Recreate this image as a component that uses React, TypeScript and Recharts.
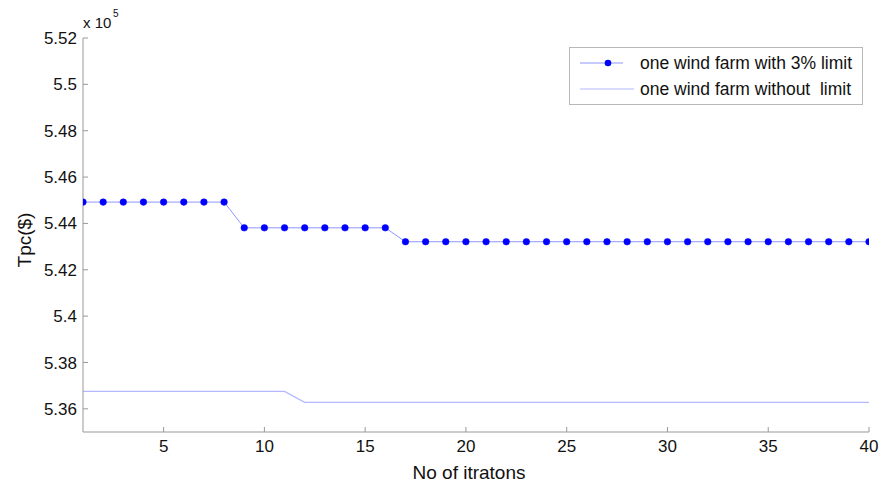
import React from 'react';
import { LineChart, Line, XAxis, YAxis } from 'recharts';

const iterations = [1,2,3,4,5,6,7,8,9,10,11,12,13,14,15,16,17,18,19,20,21,22,23,24,25,26,27,28,29,30,31,32,33,34,35,36,37,38,39,40];
const withLimit = [5.4492,5.4492,5.4492,5.4492,5.4492,5.4492,5.4492,5.4492,5.4381,5.4381,5.4381,5.4381,5.4381,5.4381,5.4381,5.4381,5.4321,5.4321,5.4321,5.4321,5.4321,5.4321,5.4321,5.4321,5.4321,5.4321,5.4321,5.4321,5.4321,5.4321,5.4321,5.4321,5.4321,5.4321,5.4321,5.4321,5.4321,5.4321,5.4321,5.4321];
const withoutLimit = [5.3675,5.3675,5.3675,5.3675,5.3675,5.3675,5.3675,5.3675,5.3675,5.3675,5.3675,5.3628,5.3628,5.3628,5.3628,5.3628,5.3628,5.3628,5.3628,5.3628,5.3628,5.3628,5.3628,5.3628,5.3628,5.3628,5.3628,5.3628,5.3628,5.3628,5.3628,5.3628,5.3628,5.3628,5.3628,5.3628,5.3628,5.3628,5.3628,5.3628];
const xTicks = [5,10,15,20,25,30,35,40];
const yTicks = [5.36,5.38,5.4,5.42,5.44,5.46,5.48,5.5,5.52];
const seriesNames = ['one wind farm with 3% limit', 'one wind farm without  limit'];
const xLabel = 'No of itratons';
const yLabel = 'Tpc($)';

const data = iterations.map((it, i) => ({ it, a: withLimit[i], b: withoutLimit[i] }));

const FONT = 'Liberation Sans, Arial, sans-serif';
const AXIS = '#999999';

export default function App() {
  return (
    <div style={{ position: 'absolute', left: 0, top: 0, width: 890, height: 486, background: '#fff', fontFamily: FONT }}>
      <LineChart width={890} height={486} data={data} margin={{ top: 38, right: 21, bottom: 0, left: 0 }}>
        <XAxis xAxisId="bottom" dataKey="it" type="number" domain={[1, 40]} ticks={xTicks} allowDataOverflow
          height={54} stroke={AXIS} tickSize={-5} tickMargin={13}
          tick={{ fill: '#111', fontSize: 17, fontFamily: FONT }} />
        <XAxis xAxisId="top" orientation="top" dataKey="it" type="number" domain={[1, 40]} ticks={xTicks}
          height={0} stroke={AXIS} tickSize={-5} tick={false} />
        <YAxis yAxisId="left" type="number" domain={[5.35, 5.52]} ticks={yTicks} allowDataOverflow
          width={83} stroke={AXIS} tickSize={-5} tickMargin={11}
          tickFormatter={(v: number) => String(Number(v.toFixed(2)))}
          tick={{ fill: '#111', fontSize: 17, fontFamily: FONT }} />
        <YAxis yAxisId="right" orientation="right" type="number" domain={[5.35, 5.52]} ticks={yTicks}
          width={0} stroke={AXIS} tickSize={-5} tick={false} />
        <Line xAxisId="bottom" yAxisId="left" type="linear" dataKey="a" stroke="#8f96ff" strokeWidth={1}
          dot={{ r: 3.3, fill: '#0000ff', stroke: '#0000ff', strokeWidth: 0.5 }} isAnimationActive={false} />
        <Line xAxisId="bottom" yAxisId="left" type="linear" dataKey="b" stroke="#b3b8ff" strokeWidth={1.2}
          dot={false} isAnimationActive={false} />
        <text x={469} y={479} textAnchor="middle" fontSize={19} fontFamily={FONT} fill="#111">{xLabel}</text>
        <text x={31} y={240} textAnchor="middle" transform="rotate(-90 31 240)" fontSize={19} fontFamily={FONT} fill="#111">{yLabel}</text>
        <text x={83} y={28} fontSize={15} fontFamily={FONT} fill="#111">x 10</text>
        <text x={113} y={17} fontSize={10} fontFamily={FONT} fill="#111">5</text>
        <g>
          <rect x={569.5} y={47.5} width={293} height={57} fill="#fff" stroke="#b8b8b8" strokeWidth={1} />
          <line x1={580} y1={63} x2={623} y2={63} stroke="#8f96ff" strokeWidth={1} />
          <circle cx={608} cy={63} r={3.3} fill="#0000ff" />
          <text x={640} y={69} fontSize={17.5} fontFamily={FONT} fill="#111">{seriesNames[0]}</text>
          <line x1={580} y1={89} x2={634} y2={89} stroke="#b3b8ff" strokeWidth={1.2} />
          <text x={640} y={95} fontSize={17.5} fontFamily={FONT} fill="#111" style={{ whiteSpace: 'pre' }}>{seriesNames[1]}</text>
        </g>
      </LineChart>
    </div>
  );
}
